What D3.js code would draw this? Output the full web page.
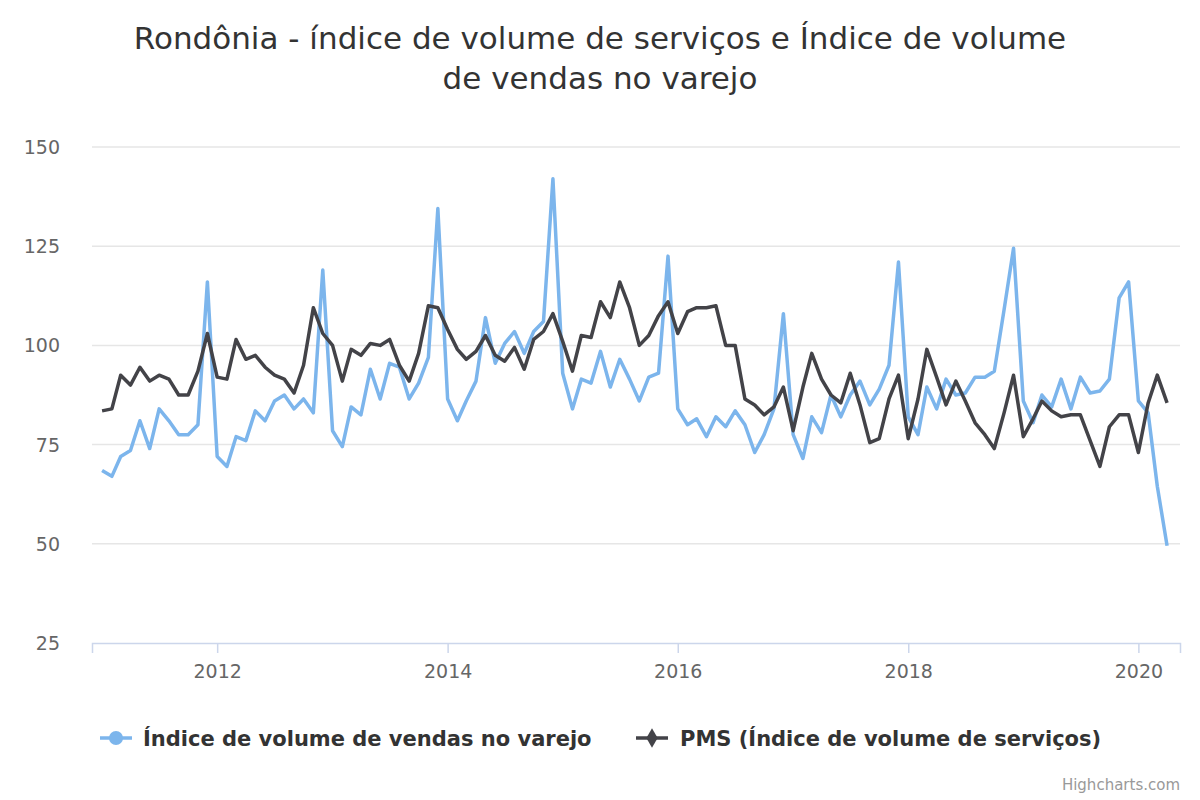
<!DOCTYPE html>
<html><head><meta charset="utf-8">
<script src="https://cdn.jsdelivr.net/npm/d3@7"></script>
<style>body{margin:0;background:#fff}svg{font-family:"DejaVu Sans",sans-serif}</style>
</head><body><div id="chart"></div>
<script>
const years = [2012, 2014, 2016, 2018, 2020];
const yTicks = [25, 50, 75, 100, 125, 150];
const varejo = [
  68.5, 67, 72, 73.5, 81, 74, 84, 81, 77.5, 77.5, 80, 116,
  72, 69.5, 77, 76, 83.5, 81, 86, 87.5, 84, 86.5, 83, 119,
  78.5, 74.5, 84.5, 82.5, 94, 86.5, 95.5, 94.5, 86.5, 90.5, 97, 134.5,
  86.5, 81, 86, 91, 107, 95.5, 100.5, 103.5, 98, 103.5, 106, 142,
  93, 84, 91.5, 90.5, 98.5, 89.5, 96.5, 91.5, 86, 92, 93, 122.5,
  84, 80, 81.5, 77, 82, 79.5, 83.5, 80, 73, 77.5, 84, 108,
  77.5, 71.5, 82, 78, 87.5, 82, 87.5, 91, 85, 89, 95, 121,
  82, 77.5, 89.5, 84, 91.5, 87.5, 88, 92, 92, 93.5, 109, 124.5,
  86, 80.5, 87.5, 84.5, 91.5, 84, 92, 88, 88.5, 91.5, 112, 116,
  86, 83, 64.5, 49.5
];
const pms = [
  83.5, 84, 92.5, 90, 94.5, 91, 92.5, 91.5, 87.5, 87.5, 93.5, 103,
  92, 91.5, 101.5, 96.5, 97.5, 94.5, 92.5, 91.5, 88, 95, 109.5, 103,
  100, 91, 99, 97.5, 100.5, 100, 101.5, 95, 91, 98, 110, 109.5,
  104, 99, 96.5, 98.5, 102.5, 97.5, 96, 99.5, 94, 101.5, 103.5, 108,
  101, 93.5, 102.5, 102, 111, 107, 116, 109.5, 100, 102.5, 107.5, 111,
  103, 108.5, 109.5, 109.5, 110, 100, 100, 86.5, 85, 82.5, 84.5, 89.5,
  78.5, 89.5, 98, 91.5, 87.5, 85.5, 93, 85, 75.5, 76.5, 86.5, 92.5,
  76.5, 86.5, 99, 92, 85, 91, 86, 80.5, 77.5, 74, 83, 92.5,
  77, 81.5, 86, 83.5, 82, 82.5, 82.5, 76, 69.5, 79.5, 82.5, 82.5,
  73, 85.5, 92.5, 85.5
];
const dates = varejo.map((v, i) => new Date(2011, i, 1));

const width = 1200, height = 800;
const margin = { left: 92, right: 20, top: 147, bottom: 157 };
const svg = d3.select("#chart").append("svg").attr("width", width).attr("height", height);

const x = d3.scaleTime()
  .domain([new Date(2010, 11, 0), new Date(2020, 4, 12)])
  .range([margin.left, width - margin.right]);
const y = d3.scaleLinear().domain([25, 150]).range([height - margin.bottom, margin.top]);

// title
svg.append("text").attr("x", 600).attr("y", 49).attr("text-anchor", "middle")
  .attr("fill", "#333").style("font-size", "31px")
  .text("Rondônia - índice de volume de serviços e Índice de volume");
svg.append("text").attr("x", 600).attr("y", 89).attr("text-anchor", "middle")
  .attr("fill", "#333").style("font-size", "31px").text("de vendas no varejo");

// grid + y labels
svg.append("g").selectAll("line").data(yTicks.slice(1)).join("line")
  .attr("x1", margin.left).attr("x2", width - margin.right)
  .attr("y1", d => y(d)).attr("y2", d => y(d)).attr("stroke", "#e6e6e6").attr("stroke-width", 1.5);
svg.append("g").selectAll("text").data(yTicks).join("text")
  .attr("x", 60).attr("y", d => y(d) + 7).attr("text-anchor", "end")
  .attr("fill", "#666").style("font-size", "19px").text(d => d);

// x axis
const xAxis = svg.append("g").attr("transform", `translate(0,${y(25)})`)
  .call(d3.axisBottom(x).tickValues(years.map(yv => new Date(yv, 0, 1)))
    .tickFormat(d3.timeFormat("%Y")).tickSize(10).tickPadding(12));
xAxis.select(".domain").attr("stroke", "#ccd6eb").attr("stroke-width", 1.5);
xAxis.selectAll(".tick line").attr("stroke", "#ccd6eb").attr("stroke-width", 1.5);
xAxis.selectAll(".tick text").attr("fill", "#666").style("font-size", "19px")
  .style("font-family", "DejaVu Sans, sans-serif");

const line = d3.line().x((d, i) => x(dates[i])).y(d => y(d));
svg.append("path").datum(varejo).attr("d", line).attr("fill", "none")
  .attr("stroke", "#7cb5ec").attr("stroke-width", 3.5).attr("stroke-linejoin", "round");
svg.append("path").datum(pms).attr("d", line).attr("fill", "none")
  .attr("stroke", "#434348").attr("stroke-width", 3.5).attr("stroke-linejoin", "round");

// legend
const lg = svg.append("g");
lg.append("line").attr("x1", 100).attr("x2", 132).attr("y1", 738).attr("y2", 738)
  .attr("stroke", "#7cb5ec").attr("stroke-width", 3.5);
lg.append("circle").attr("cx", 116).attr("cy", 738).attr("r", 7).attr("fill", "#7cb5ec");
lg.append("text").attr("x", 143).attr("y", 746).attr("fill", "#333")
  .style("font-size", "21px").style("font-weight", "bold").text("Índice de volume de vendas no varejo");
lg.append("line").attr("x1", 636).attr("x2", 668).attr("y1", 738).attr("y2", 738)
  .attr("stroke", "#434348").attr("stroke-width", 3.5);
lg.append("path").attr("transform", "translate(652,738)")
  .attr("d", d3.symbol(d3.symbolDiamond, 110)).attr("fill", "#434348");
lg.append("text").attr("x", 680).attr("y", 746).attr("fill", "#333")
  .style("font-size", "21px").style("font-weight", "bold").text("PMS (Índice de volume de serviços)");

svg.append("text").attr("x", 1180).attr("y", 790).attr("text-anchor", "end")
  .attr("fill", "#999").style("font-size", "15px").text("Highcharts.com");
</script></body></html>
